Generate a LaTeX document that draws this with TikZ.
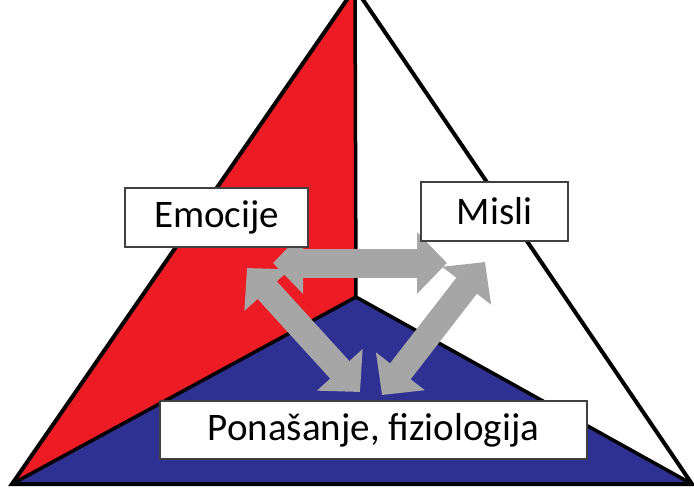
\documentclass[tikz,border=0pt]{standalone}
\usepackage{fontspec}
\setmainfont{Carlito}
\usetikzlibrary{arrows.meta}

\definecolor{crvena}{HTML}{ED1C24}
\definecolor{plava}{HTML}{2E3192}
\definecolor{siva}{HTML}{A6A6A6}

\begin{document}
\begin{tikzpicture}[x=1pt,y=-1pt,
  okvir/.style={draw=black!75, line width=1.2pt, fill=white,
    minimum height=59pt, inner sep=0pt, font=\fontsize{39}{46}\selectfont},
  strelica/.style={draw=siva, line width=29pt,
    {Triangle[length=30pt,width=60pt]}-{Triangle[length=30pt,width=60pt]}}
]

  \useasboundingbox (0,0) rectangle (694,488);
  \clip (0,0) rectangle (694,488);

  % trokut
  \coordinate (vrh) at (355,-12);
  \coordinate (lijevo) at (12,484);
  \coordinate (desno) at (692,484);
  \coordinate (sredina) at (356,297);

  \fill[crvena] (vrh) -- (sredina) -- (lijevo) -- cycle;
  \fill[plava] (lijevo) -- (sredina) -- (desno) -- cycle;
  \draw[line width=4pt] (vrh) -- (lijevo) -- (desno) -- cycle;
  \draw[line width=3.5pt] (vrh) -- (sredina) (lijevo) -- (sredina) -- (desno);

  % krajevi strelica
  \coordinate (emA) at (273,263);
  \coordinate (miA) at (447,263);
  \coordinate (emB) at (247,268);
  \coordinate (poA) at (360,392);
  \coordinate (miB) at (485,262);
  \coordinate (poB) at (382,395);

  \draw[strelica] (emA) -- (miA);
  \draw[strelica, line width=26pt] (emB) -- (poA);
  \draw[strelica, line width=26pt] (miB) -- (poB);

  % okviri
  \node[okvir, minimum width=183pt] (emocije) at (216.5,217.5) {Emocije};
  \node[okvir, minimum width=147pt] (misli) at (494.5,211.5) {Misli};
  \node[okvir, minimum width=427pt, minimum height=58pt] (ponasanje) at (373.5,430) {Ponašanje, fiziologija};

\end{tikzpicture}
\end{document}
